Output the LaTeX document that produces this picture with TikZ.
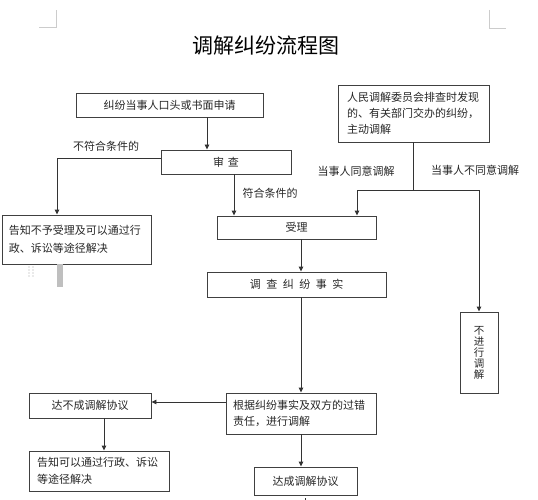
\documentclass[tikz,border=0pt]{standalone}
\usepackage{fontspec}
\setmainfont{Noto Sans CJK SC}
\usepackage{tikz}
\usetikzlibrary{arrows.meta, calc}

\newcommand{\cngap}[1][0.5em]{\hspace{#1}}

\begin{document}
\begin{tikzpicture}[
    x=1pt, y=-1pt,
    every node/.style={font=\fontsize{11}{16}\selectfont, text=black!85},
    flow_box/.style={rectangle, draw=black!75, line width=0.9pt, inner sep=0pt, align=center},
    left_box/.style={flow_box, align=left},
    label_text/.style={inner sep=0pt},
    arrow_style/.style={-{Triangle[length=5pt, width=4.5pt]}, line width=0.9pt, draw=black!80},
    line_style/.style={line width=0.9pt, draw=black!80},
    mark_style/.style={line width=0.6pt, draw=black!20}
  ]
    \useasboundingbox (0,0) rectangle (538,500);

    % page corner marks
    \draw[mark_style] (39,27) -- (56,27) -- (56,10);
    \draw[mark_style] (489,10) -- (489,28) -- (506,28);

    \node[font=\fontsize{21}{24}\selectfont, text=black] (title) at (266,46) {调解纠纷流程图};

    \node[flow_box, minimum width=187pt, minimum height=24pt] (apply_box) at (169.5,105) {纠纷当事人口头或书面申请};
    \node[left_box, minimum width=151pt, minimum height=57pt, text width=133pt] (proactive_box) at (413.5,113.5)
        {人民调解委员会排查时发现\\的、有关部门交办的纠纷，\\主动调解};
    \node[flow_box, minimum width=130pt, minimum height=24pt] (review_box) at (226,162) {审\cngap[0.35em]查};
    \node[left_box, minimum width=149pt, minimum height=49pt, text width=135pt,
          font=\fontsize{11}{18}\selectfont] (notice_one_box) at (76.5,239.5)
        {告知不予受理及可以通过行\\政、诉讼等途径解决};
    \node[flow_box, minimum width=159pt, minimum height=23pt] (accept_box) at (296.5,227.5) {受理};
    \node[flow_box, minimum width=179pt, minimum height=25pt] (investigate_box) at (296.5,284.5)
        {调\cngap 查\cngap 纠\cngap 纷\cngap 事\cngap 实};
    \node[flow_box, minimum width=38pt, minimum height=81pt,
          font=\fontsize{10.5}{11}\selectfont] (refuse_box) at (479,352.5) {不\\进\\行\\调\\解};
    \node[left_box, minimum width=150pt, minimum height=41pt, text width=136pt] (mediate_box) at (301,413.5)
        {根据纠纷事实及双方的过错\\责任，进行调解};
    \node[flow_box, minimum width=122pt, minimum height=25pt] (fail_box) at (90,405.5) {达不成调解协议};
    \node[left_box, minimum width=140pt, minimum height=40pt, text width=124pt,
          font=\fontsize{11}{17}\selectfont] (notice_two_box) at (99,471)
        {告知可以通过行政、诉讼\\等途径解决};
    \node[flow_box, minimum width=103pt, minimum height=28pt] (success_box) at (305.5,481) {达成调解协议};

    % branch labels
    \node[label_text] (reject_label) at (106,146) {不符合条件的};
    \node[label_text] (pass_label) at (270,193) {符合条件的};
    \node[label_text] (agree_label) at (356,171) {当事人同意调解};
    \node[label_text] (disagree_label) at (475,170) {当事人不同意调解};

    % connectors
    \draw[arrow_style] ([xshift=37.5pt]apply_box.south) -- ([xshift=37.5pt]apply_box.south |- review_box.north);
    \draw[arrow_style] ([yshift=4pt]review_box.west) -| ([xshift=-19.5pt]notice_one_box.north);
    \draw[arrow_style] ([xshift=8pt]review_box.south) -- ([xshift=8pt]review_box.south |- accept_box.north);

    \coordinate (split) at ([yshift=-48pt]proactive_box.south);
    \draw[line_style] (proactive_box.south) -- (split);
    \draw[arrow_style] (split) -| ([xshift=60.5pt]accept_box.north);
    \draw[arrow_style] (split) -| (refuse_box.north);

    \draw[arrow_style] ([xshift=4.5pt]accept_box.south) -- ([xshift=4.5pt]accept_box.south |- investigate_box.north);
    \draw[arrow_style] (investigate_box.south -| mediate_box.north) -- (mediate_box.north);
    \draw[arrow_style] (mediate_box.south) -- (mediate_box.south |- success_box.north);
    \draw[arrow_style] ([yshift=11.5pt]mediate_box.west) -- ([yshift=11.5pt]mediate_box.west -| fail_box.east);
    \draw[arrow_style] ([xshift=14pt]fail_box.south) -- ([xshift=14pt]fail_box.south |- notice_two_box.north);
    \draw[line_style] ([yshift=-3pt]success_box.south) -- ([yshift=-8pt]success_box.south);

    % editor handles
    \fill[black!25] (57,264) rectangle (63,287);
    \foreach \dx in {0,4} {
        \foreach \dy in {0,3,6,9} {
            \fill[black!35] (29+\dx,267+\dy) circle[radius=0.7pt];
        }
    }

\end{tikzpicture}
\end{document}
